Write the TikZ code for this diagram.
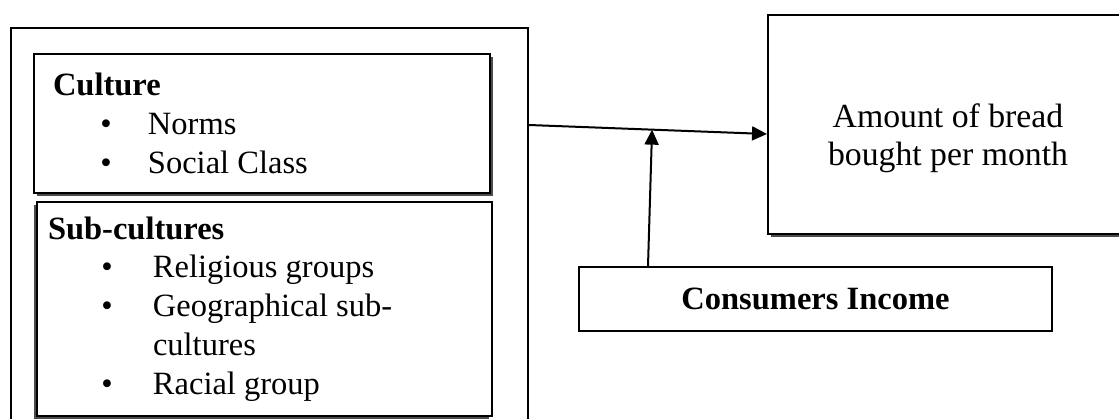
\documentclass[tikz,border=0pt]{standalone}
\usepackage{fontspec}
\setmainfont{Liberation Serif}
\usetikzlibrary{arrows.meta,shadows,positioning}

\newlength\bulletin
\newlength\textin
\newcommand{\bitem}[1]{\par\hangindent=\textin\hangafter=1\noindent\hspace*{\bulletin}\makebox[\dimexpr\textin-\bulletin][l]{\textbullet}#1}

\begin{document}
\begin{tikzpicture}[
  x=0.4pt,
  y=-0.4pt,
  thick,
  every node/.style={font=\fontsize{13}{15.5}\selectfont},
  box/.style={
    draw,
    fill=white,
    inner sep=0pt
    },
  group/.style 2 args={
    box,
    anchor=north west,
    align=flush left,
    execute at begin node={\setlength\bulletin{#1}\setlength\textin{#2}}
    },
  shade right/.style={
    drop shadow={shadow xshift=1.2pt, shadow yshift=-1.2pt, fill=black!70, opacity=1}
    },
  shade left/.style={
    drop shadow={shadow xshift=-1.2pt, shadow yshift=-1.2pt, fill=black!70, opacity=1}
    },
  link/.style={
    -{Triangle[length=6pt,width=5.6pt]}
    }
]

\useasboundingbox (0,0) rectangle (1119,419);

\node[box, anchor=north west, minimum width=206.8pt, minimum height=165.2pt] at (10,27) (frame) {};

\node[group={18.9pt}{38pt}, shade right, minimum width=182.4pt, minimum height=55.6pt,
      inner xsep=7.6pt, text width=167.2pt] at (33,53)
  (culture)
  {
  \textbf{Culture}
  \bitem{Norms}
  \bitem{Social Class}
  };

\node[group={21.3pt}{42pt}, shade left, minimum width=182pt, minimum height=85.8pt,
      inner xsep=4.4pt, text width=173.2pt,
      below=2.6pt of culture.south west, anchor=north west, xshift=1.2pt]
  (subcultures)
  {
  \textbf{Sub-cultures}
  \bitem{Religious groups}
  \bitem{Geographical sub-\newline cultures}
  \bitem{Racial group}
  };

\node[box, shade right, anchor=north west, align=center,
      font=\fontsize{13.5}{15}\selectfont,
      minimum width=144pt, minimum height=87.6pt] at (767,14)
  (amount)
  {\rule{0pt}{20.5pt}Amount of bread\\bought per month};

\node[box, anchor=north west, minimum width=189.2pt, minimum height=25.6pt] at (578,266)
  (income)
  {\textbf{Consumers Income}};

\path (frame.north east) ++(0,98) coordinate (from);
\path (amount.north west) ++(0,120) coordinate (to);
\path (from) -- (to) coordinate[pos=0.517] (meet);

\draw[link] (from) -- (to);
\draw[link] (income.north west) ++(70,0) -- (meet);

\end{tikzpicture}
\end{document}
